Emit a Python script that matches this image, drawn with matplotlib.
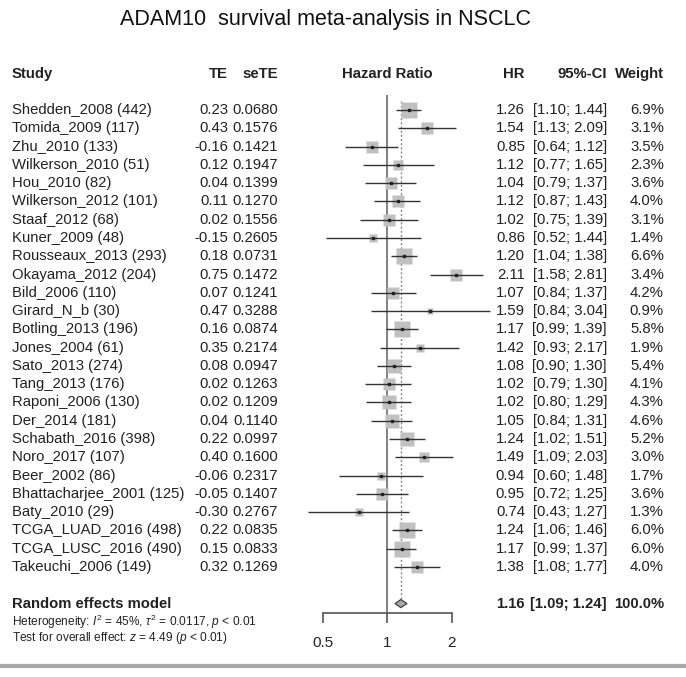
import matplotlib
matplotlib.use("Agg")
import matplotlib.pyplot as plt
import matplotlib.transforms as mtransforms
from matplotlib.lines import Line2D
from matplotlib.patches import Polygon

plt.rcParams['font.family'] = ['Liberation Sans', 'DejaVu Sans']
plt.rcParams['mathtext.fontset'] = 'custom'
plt.rcParams['mathtext.rm'] = 'Liberation Sans'
plt.rcParams['mathtext.it'] = 'Liberation Sans:italic'

# data
studies = ["Shedden_2008 (442)", "Tomida_2009 (117)", "Zhu_2010 (133)", "Wilkerson_2010 (51)",
           "Hou_2010 (82)", "Wilkerson_2012 (101)", "Staaf_2012 (68)", "Kuner_2009 (48)",
           "Rousseaux_2013 (293)", "Okayama_2012 (204)", "Bild_2006 (110)", "Girard_N_b (30)",
           "Botling_2013 (196)", "Jones_2004 (61)", "Sato_2013 (274)", "Tang_2013 (176)",
           "Raponi_2006 (130)", "Der_2014 (181)", "Schabath_2016 (398)", "Noro_2017 (107)",
           "Beer_2002 (86)", "Bhattacharjee_2001 (125)", "Baty_2010 (29)",
           "TCGA_LUAD_2016 (498)", "TCGA_LUSC_2016 (490)", "Takeuchi_2006 (149)"]
te = [0.23, 0.43, -0.16, 0.12, 0.04, 0.11, 0.02, -0.15, 0.18, 0.75, 0.07, 0.47, 0.16,
      0.35, 0.08, 0.02, 0.02, 0.04, 0.22, 0.40, -0.06, -0.05, -0.30, 0.22, 0.15, 0.32]
sete = [0.0680, 0.1576, 0.1421, 0.1947, 0.1399, 0.1270, 0.1556, 0.2605, 0.0731, 0.1472,
        0.1241, 0.3288, 0.0874, 0.2174, 0.0947, 0.1263, 0.1209, 0.1140, 0.0997, 0.1600,
        0.2317, 0.1407, 0.2767, 0.0835, 0.0833, 0.1269]
hr = [1.26, 1.54, 0.85, 1.12, 1.04, 1.12, 1.02, 0.86, 1.20, 2.11, 1.07, 1.59, 1.17,
      1.42, 1.08, 1.02, 1.02, 1.05, 1.24, 1.49, 0.94, 0.95, 0.74, 1.24, 1.17, 1.38]
lo = [1.10, 1.13, 0.64, 0.77, 0.79, 0.87, 0.75, 0.52, 1.04, 1.58, 0.84, 0.84, 0.99,
      0.93, 0.90, 0.79, 0.80, 0.84, 1.02, 1.09, 0.60, 0.72, 0.43, 1.06, 0.99, 1.08]
hi = [1.44, 2.09, 1.12, 1.65, 1.37, 1.43, 1.39, 1.44, 1.38, 2.81, 1.37, 3.04, 1.39,
      2.17, 1.30, 1.30, 1.29, 1.31, 1.51, 2.03, 1.48, 1.25, 1.27, 1.46, 1.37, 1.77]
weight = [6.9, 3.1, 3.5, 2.3, 3.6, 4.0, 3.1, 1.4, 6.6, 3.4, 4.2, 0.9, 5.8, 1.9, 5.4,
          4.1, 4.3, 4.6, 5.2, 3.0, 1.7, 3.6, 1.3, 6.0, 6.0, 4.0]
pooled_hr, pooled_lo, pooled_hi = 1.16, 1.09, 1.24
ticks = [0.5, 1, 2]

W, H = 686, 677
fig = plt.figure(figsize=(W / 100, H / 100), dpi=100)

# axes in pixel terms: 1 -> x=387, one doubling = 64.5 px
px_left, px_right, px_top, px_bot = 290, 505, 95, 613
row0, rowstep = 110, 18.28
ax = fig.add_axes([px_left / W, 1 - px_bot / H, (px_right - px_left) / W, (px_bot - px_top) / H])
ax.set_xscale('log', base=2)
ax.set_xlim(2 ** ((px_left - 387) / 64.5), 2 ** ((px_right - 387) / 64.5))
ax.set_ylim((px_bot - row0) / rowstep, (px_top - row0) / rowstep)

for s in ['top', 'right', 'left']:
    ax.spines[s].set_visible(False)
ax.spines['bottom'].set_bounds(0.5, 2)
ax.spines['bottom'].set_color('#555555')
ax.spines['bottom'].set_linewidth(1.2)
ax.set_yticks([])
ax.set_xticks(ticks)
ax.set_xticklabels(['0.5', '1', '2'])
ax.minorticks_off()
ax.tick_params(axis='x', direction='out', length=7.5, width=1.2, color='#555555',
               labelsize=11, labelcolor='#222222', pad=9)

txtc = '#222222'
n = len(studies)
ax.axvline(1, color='#777777', lw=1.3, zorder=1)
ax.vlines(pooled_hr, -0.5, n + 0.8, colors='#888888', lw=1, linestyles=(0, (1.5, 1.5)), zorder=1)

for i in range(n):
    side = 6.3 * weight[i] ** 0.5 * 0.72
    ax.plot(hr[i], i, marker='s', ms=side, color='#c0c0c0', mec='none', zorder=2)
    ax.hlines(i, lo[i], hi[i], colors='#333333', lw=1, zorder=3)
    ax.plot(hr[i], i, marker='s', ms=2, color='#222222', zorder=4)

yd = n + 1
ax.add_patch(Polygon([(pooled_lo, yd), (pooled_hr, yd - 0.22), (pooled_hi, yd), (pooled_hr, yd + 0.22)],
                     closed=True, fc='#a8a8a8', ec='#444444', lw=0.9, zorder=3))

tr = mtransforms.blended_transform_factory(fig.transFigure, ax.transData)
fs = 10.7


def col(x, y, s, ha='left', **kw):
    ax.text(x / W, y, s, transform=tr, ha=ha, va='center', fontsize=kw.pop('fontsize', fs),
            color=txtc, clip_on=False, **kw)


yh = (74 - row0) / rowstep
col(12, yh, "Study", fontweight='bold')
col(228, yh, "TE", ha='right', fontweight='bold')
col(278, yh, "seTE", ha='right', fontweight='bold')
col(387, yh, "Hazard Ratio", ha='center', fontweight='bold')
col(525, yh, "HR", ha='right', fontweight='bold')
col(607, yh, "95%-CI", ha='right', fontweight='bold')
col(664, yh, "Weight", ha='right', fontweight='bold')

for i in range(n):
    col(12, i, studies[i])
    col(228, i, f"{te[i]:.2f}", ha='right')
    col(278, i, f"{sete[i]:.4f}", ha='right')
    col(525, i, f"{hr[i]:.2f}", ha='right')
    col(607, i, f"[{lo[i]:.2f}; {hi[i]:.2f}]", ha='right')
    col(664, i, f"{weight[i]:.1f}%", ha='right')

col(12, yd, "Random effects model", fontweight='bold')
col(525, yd, f"{pooled_hr:.2f}", ha='right', fontweight='bold')
col(607, yd, f"[{pooled_lo:.2f}; {pooled_hi:.2f}]", ha='right', fontweight='bold')
col(664, yd, "100.0%", ha='right', fontweight='bold')

col(12, (622 - row0) / rowstep, r"Heterogeneity: $I^2$ = 45%, $\tau^2$ = 0.0117, $p$ < 0.01", fontsize=8.6)
col(12, (638 - row0) / rowstep, r"Test for overall effect: $z$ = 4.49 ($p$ < 0.01)", fontsize=8.6)

fig.text(325 / W, 1 - 20 / H, "ADAM10  survival meta-analysis in NSCLC", ha='center', va='center',
         fontsize=15.5, color='#111111')

fig.add_artist(Line2D([0, 1], [1 - 666 / H, 1 - 666 / H], color='#a8a8a8', lw=3))

fig.savefig("out.png", dpi=100)
